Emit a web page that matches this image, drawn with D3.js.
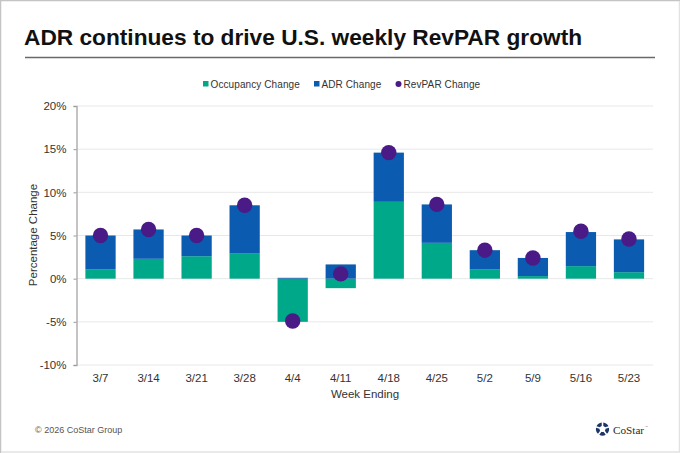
<!DOCTYPE html>
<html><head><meta charset="utf-8">
<script src="https://cdn.jsdelivr.net/npm/d3@7/dist/d3.min.js"></script>
<style>html,body{margin:0;padding:0;background:#fff}svg{display:block}text{font-family:"Liberation Sans",Arial,sans-serif}</style>
</head><body><svg id="c" width="680" height="453"></svg>
<script>
const weeks=["3/7","3/14","3/21","3/28","4/4","4/11","4/18","4/25","5/2","5/9","5/16","5/23"];
const occupancy=[1.1,2.3,2.6,2.9,-5.0,-1.1,8.9,4.15,1.1,0.3,1.45,0.75];
const adr=[3.9,3.4,2.4,5.6,0.1,1.65,5.7,4.45,2.2,2.1,3.95,3.8];
const revpar=[5.0,5.7,5.0,8.5,-4.9,0.55,14.6,8.6,3.3,2.4,5.5,4.6];
const yTicks=[-10,-5,0,5,10,15,20];
const colors={occ:"#00a88a",adr:"#0b5cb0",rev:"#4a1a86"};

const svg=d3.select("#c");
svg.append("path").attr("d",d3.line()([[0.5,453],[0.5,0.5],[680,0.5]])).attr("fill","none").attr("stroke","#c4c4c4").attr("stroke-width",1.5);
svg.append("path").attr("d",d3.line()([[679.5,1],[679.5,452],[1,452]])).attr("fill","none").attr("stroke","#e2e2e2").attr("stroke-width",1.5);

svg.append("text").attr("x",24).attr("y",45).attr("font-size",22.7).attr("font-weight",700).attr("fill","#111").text("ADR continues to drive U.S. weekly RevPAR growth");
svg.append("line").attr("x1",25).attr("x2",655).attr("y1",57.5).attr("y2",57.5).attr("stroke","#6a6a6a").attr("stroke-width",1.5);

const x=d3.scaleBand().domain(weeks).range([76.5,653]).paddingInner(0.37).paddingOuter(0.185);
const y=d3.scaleLinear().domain([-10,20]).range([365,106]);

const g=svg.append("g");
g.selectAll("line.grid").data(yTicks).join("line").attr("class","grid")
 .attr("x1",76.5).attr("x2",653).attr("y1",d=>y(d)).attr("y2",d=>y(d)).attr("stroke","#e8e8e8").attr("stroke-width",1);

const rows=weeks.map((w,i)=>({w,occ:occupancy[i],adr:adr[i]}));
const stack=d3.stack().keys(["occ","adr"]).offset(d3.stackOffsetDiverging)(rows);
g.selectAll("g.s").data(stack).join("g").attr("class","s").attr("fill",s=>colors[s.key])
 .selectAll("rect").data(s=>s).join("rect")
 .attr("x",d=>x(d.data.w)).attr("width",x.bandwidth())
 .attr("y",d=>y(Math.max(d[0],d[1]))).attr("height",d=>Math.abs(y(d[0])-y(d[1])));

g.selectAll("circle.r").data(weeks).join("circle").attr("class","r")
 .attr("cx",d=>x(d)+x.bandwidth()/2).attr("cy",(d,i)=>y(revpar[i])).attr("r",7.7).attr("fill",colors.rev);

const yAxis=d3.axisLeft(y).tickValues(yTicks).tickSize(3).tickPadding(7).tickFormat(d=>d+"%");
const ya=svg.append("g").attr("transform","translate(76.5,0)").call(yAxis);
ya.select(".domain").attr("stroke","#b0b0b0").attr("stroke-width",1.5);
ya.selectAll(".tick line").attr("stroke","#999");
ya.selectAll("text").attr("font-size",11.5).attr("fill","#333").attr("font-family",'"Liberation Sans",Arial,sans-serif');

const xAxis=d3.axisBottom(x).tickSize(0).tickPadding(9);
const xa=svg.append("g").attr("transform","translate(0,365)").call(xAxis);
xa.select(".domain").remove();
xa.selectAll("text").attr("font-size",11.5).attr("fill","#333").attr("font-family",'"Liberation Sans",Arial,sans-serif');

svg.append("text").attr("x",365).attr("y",398).attr("text-anchor","middle").attr("font-size",11.5).attr("fill","#333").text("Week Ending");
svg.append("text").attr("transform","translate(37,235) rotate(-90)").attr("text-anchor","middle").attr("font-size",11.5).attr("fill","#333").text("Percentage Change");

const leg=svg.append("g").attr("font-size",10).attr("fill","#333");
leg.append("rect").attr("x",203).attr("y",81).attr("width",5.5).attr("height",5.5).attr("fill",colors.occ);
leg.append("text").attr("x",210.5).attr("y",88).attr("letter-spacing",0.1).text("Occupancy Change");
leg.append("rect").attr("x",314).attr("y",81).attr("width",5.5).attr("height",5.5).attr("fill",colors.adr);
leg.append("text").attr("x",321.5).attr("y",88).attr("letter-spacing",0.1).text("ADR Change");
leg.append("circle").attr("cx",398.5).attr("cy",84).attr("r",3).attr("fill",colors.rev);
leg.append("text").attr("x",403.5).attr("y",88).attr("letter-spacing",0.1).text("RevPAR Change");

svg.append("text").attr("x",35).attr("y",433).attr("font-size",9).attr("fill","#555").text("© 2026 CoStar Group");

const logo=svg.append("g").attr("transform","translate(602.5,429)");
const pie=d3.pie().value(1).padAngle(0.22)(d3.range(5));
logo.selectAll("path").data(pie).join("path").attr("d",d3.arc().innerRadius(3).outerRadius(6.6)).attr("fill","#1c3566");
svg.append("text").attr("x",613).attr("y",433.5).attr("font-size",11.2).attr("fill","#2a2a2a").style("font-family",'"Liberation Serif",serif').text("CoStar");
svg.append("text").attr("x",645).attr("y",428).attr("font-size",3).attr("fill","#666").text("™");
</script></body></html>
